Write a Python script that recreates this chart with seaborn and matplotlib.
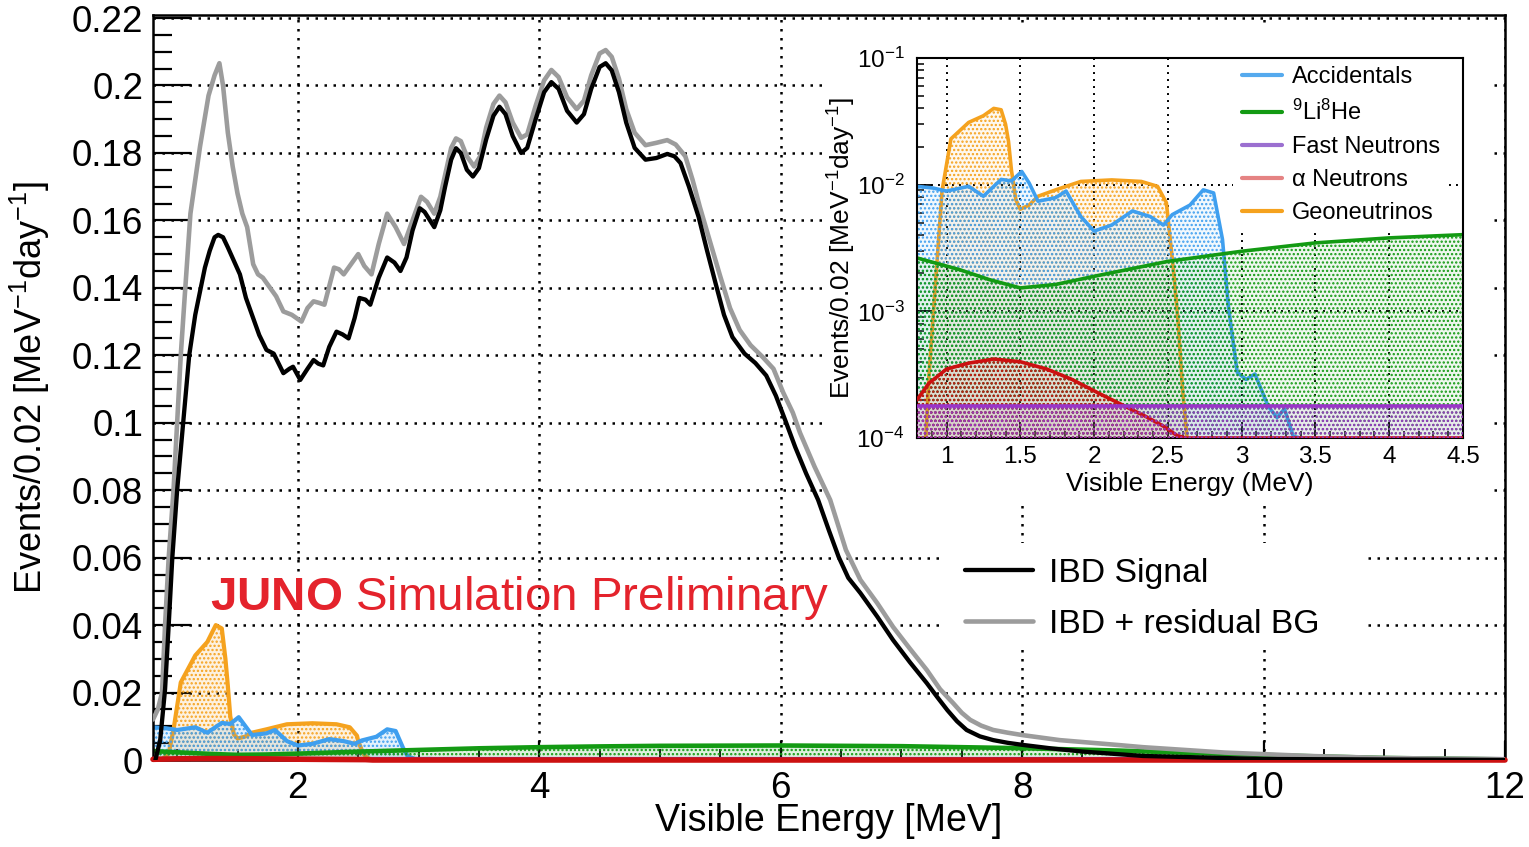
import numpy as np
import matplotlib
matplotlib.use("Agg")
import matplotlib.pyplot as plt
import seaborn as sns
from matplotlib.lines import Line2D
from matplotlib.patches import Rectangle
from matplotlib.ticker import MultipleLocator, FuncFormatter, LogLocator, NullFormatter

# ---------------- spectra (events / 0.02 MeV / day) ----------------
# IBD signal
ibd_E = [0.82, 0.86, 0.90, 0.93, 0.96, 1.00, 1.05, 1.10, 1.15, 1.19, 1.23, 1.27, 1.31, 1.34, 1.38,
         1.42, 1.47, 1.52, 1.57, 1.63, 1.68, 1.74, 1.80, 1.88, 1.93, 1.96, 2.02, 2.08, 2.13, 2.17,
         2.21, 2.26, 2.32, 2.37, 2.42, 2.47, 2.51, 2.56, 2.60, 2.67, 2.74, 2.80, 2.85, 2.90, 2.95,
         3.01, 3.05, 3.13, 3.18, 3.22, 3.27, 3.31, 3.35, 3.40, 3.45, 3.50, 3.56, 3.62, 3.67, 3.72,
         3.78, 3.85, 3.90, 3.97, 4.04, 4.10, 4.16, 4.23, 4.31, 4.37, 4.43, 4.50, 4.55, 4.60, 4.66,
         4.72, 4.79, 4.88, 4.97, 5.06, 5.12, 5.17, 5.24, 5.32, 5.39, 5.46, 5.53, 5.60, 5.70, 5.79,
         5.88, 5.96, 6.04, 6.12, 6.21, 6.31, 6.40, 6.48, 6.56, 6.66, 6.80, 6.93, 7.07, 7.21, 7.30,
         7.38, 7.46, 7.54, 7.65, 7.76, 7.88, 8.00, 8.25, 8.50, 9.00, 10.0, 12.0]
ibd_rate = [0.0, 0.006, 0.021, 0.040, 0.060, 0.080, 0.100, 0.120, 0.132, 0.139, 0.146, 0.151, 0.155,
            0.1557, 0.155, 0.152, 0.148, 0.144, 0.137, 0.131, 0.126, 0.1216, 0.1205, 0.1147, 0.1160,
            0.1166, 0.1127, 0.1160, 0.1186, 0.1175, 0.117, 0.1225, 0.127, 0.1262, 0.125, 0.131, 0.137,
            0.1365, 0.135, 0.143, 0.149, 0.1475, 0.145, 0.149, 0.157, 0.1636, 0.1625, 0.158, 0.163,
            0.170, 0.178, 0.1814, 0.180, 0.175, 0.173, 0.1755, 0.184, 0.191, 0.1937, 0.1915, 0.185,
            0.180, 0.1815, 0.190, 0.198, 0.201, 0.199, 0.1925, 0.189, 0.1915, 0.199, 0.2055, 0.2066,
            0.2045, 0.198, 0.189, 0.1815, 0.178, 0.1785, 0.1797, 0.1790, 0.177, 0.170, 0.161, 0.151,
            0.1414, 0.132, 0.1254, 0.1205, 0.1177, 0.1140, 0.1080, 0.1005, 0.0928, 0.085, 0.0771,
            0.068, 0.0602, 0.0540, 0.0495, 0.0425, 0.0356, 0.029, 0.0228, 0.0185, 0.0148, 0.0115,
            0.0089, 0.0070, 0.0059, 0.0051, 0.0045, 0.0034, 0.0025, 0.0012, 0.0003, 0.0]

# IBD signal plus residual backgrounds
tot_E = [0.80, 0.84, 0.875, 0.90, 0.93, 0.97, 1.00, 1.03, 1.06, 1.11, 1.15, 1.19, 1.26, 1.31, 1.35,
         1.38, 1.42, 1.46, 1.50, 1.54, 1.58, 1.63, 1.67, 1.71, 1.77, 1.82, 1.88, 1.95, 2.03, 2.08,
         2.13, 2.18, 2.22, 2.26, 2.30, 2.34, 2.38, 2.44, 2.50, 2.55, 2.61, 2.67, 2.74, 2.81, 2.88,
         2.95, 3.02, 3.07, 3.13, 3.18, 3.22, 3.27, 3.31, 3.35, 3.40, 3.46, 3.51, 3.56, 3.62, 3.67,
         3.72, 3.78, 3.85, 3.90, 3.97, 4.04, 4.10, 4.16, 4.23, 4.31, 4.37, 4.43, 4.50, 4.55, 4.60,
         4.66, 4.72, 4.79, 4.88, 4.97, 5.06, 5.13, 5.21, 5.27, 5.33, 5.42, 5.50, 5.58, 5.66, 5.75,
         5.85, 5.94, 6.02, 6.10, 6.16, 6.28, 6.41, 6.54, 6.66, 6.80, 6.93, 7.07, 7.21, 7.32, 7.43,
         7.50, 7.57, 7.66, 7.76, 7.88, 8.00, 8.31, 8.81, 9.00, 9.68, 10.37, 11.0, 12.0]
tot_rate = [0.012, 0.015, 0.020, 0.040, 0.060, 0.080, 0.100, 0.120, 0.136, 0.162, 0.172, 0.182, 0.197,
            0.203, 0.2066, 0.200, 0.186, 0.176, 0.168, 0.162, 0.158, 0.147, 0.144, 0.143, 0.140,
            0.1375, 0.133, 0.132, 0.130, 0.134, 0.136, 0.1355, 0.135, 0.1405, 0.146, 0.1455, 0.144,
            0.147, 0.150, 0.1465, 0.144, 0.153, 0.162, 0.158, 0.153, 0.160, 0.167, 0.1655, 0.162,
            0.167, 0.1735, 0.1815, 0.1843, 0.1835, 0.179, 0.176, 0.179, 0.1875, 0.1945, 0.197,
            0.195, 0.189, 0.1845, 0.1855, 0.194, 0.2015, 0.2046, 0.2025, 0.1965, 0.193, 0.1955,
            0.203, 0.2095, 0.2105, 0.2085, 0.202, 0.193, 0.186, 0.1823, 0.183, 0.1838, 0.1825, 0.179,
            0.172, 0.164, 0.153, 0.1433, 0.134, 0.1275, 0.123, 0.1195, 0.116, 0.109, 0.103, 0.097,
            0.087, 0.0771, 0.0623, 0.0534, 0.0465, 0.0395, 0.033, 0.0267, 0.021, 0.0168, 0.014,
            0.0119, 0.0102, 0.0089, 0.0081, 0.0074, 0.0059, 0.0044, 0.0038, 0.0022, 0.0012, 0.0006,
            0.0002]

# Accidentals
acc_E = [0.80, 0.91, 1.00, 1.15, 1.25, 1.37, 1.44, 1.51, 1.56, 1.62, 1.74, 1.81, 1.91, 2.00, 2.12,
         2.26, 2.38, 2.47, 2.53, 2.65, 2.74, 2.81, 2.87, 2.91, 2.97, 3.03, 3.09, 3.18, 3.24, 3.29,
         3.35, 3.40]
acc_rate = [0.0097, 0.0094, 0.0089, 0.0097, 0.0081, 0.0110, 0.0107, 0.0127, 0.0103, 0.0074, 0.0079,
            0.0089, 0.0056, 0.0043, 0.0048, 0.0062, 0.0056, 0.0048, 0.0058, 0.0069, 0.0091, 0.0086,
            0.0037, 0.0011, 0.00033, 0.00029, 0.00032, 0.000178, 0.000145, 0.00017, 0.000103, 0.0]

# Geoneutrinos
geo_E = [0.80, 0.86, 0.88, 0.93, 0.97, 1.03, 1.15, 1.25, 1.32, 1.37, 1.40, 1.42, 1.44, 1.47, 1.50,
         1.56, 1.62, 1.74, 1.91, 2.12, 2.32, 2.43, 2.49, 2.50, 2.54, 2.57, 2.60, 2.63]
geo_rate = [0.0, 0.0, 0.0003, 0.002, 0.009, 0.023, 0.031, 0.035, 0.040, 0.039, 0.030, 0.022, 0.013,
            0.0076, 0.0064, 0.0069, 0.0081, 0.0091, 0.0106, 0.0109, 0.0106, 0.0097, 0.0072, 0.0056,
            0.002, 0.00081, 0.00024, 0.0]

# 9Li / 8He
li_E = [0.80, 1.09, 1.29, 1.50, 1.74, 2.00, 2.50, 3.00, 3.50, 4.00, 4.50, 5.00, 6.00, 7.00, 8.00,
        8.80, 9.50, 10.30, 11.00, 12.00]
li_rate = [0.00264, 0.00213, 0.00178, 0.00153, 0.00163, 0.00189, 0.00248, 0.00298, 0.00347, 0.0038,
           0.00403, 0.0042, 0.0043, 0.0041, 0.0035, 0.0028, 0.0020, 0.0012, 0.0006, 0.0002]

# Fast neutrons
fn_E = [0.80, 12.0]
fn_rate = [0.000178, 0.000178]

# (alpha, n)
an_E = [0.80, 0.88, 1.00, 1.15, 1.32, 1.50, 1.68, 1.85, 2.03, 2.21, 2.35, 2.47, 2.56, 2.62, 12.0]
an_rate = [0.00020, 0.00027, 0.00035, 0.00039, 0.00042, 0.00040, 0.00035, 0.00029, 0.000226,
           0.000178, 0.000148, 0.000124, 0.000105, 0.0, 0.0]

main_labels = ["IBD Signal", "IBD + residual BG"]
bg_labels = ["Accidentals", r"$^{9}$Li$^{8}$He", "Fast Neutrons", "α Neutrons", "Geoneutrinos"]

C_ACC, C_LI, C_FN, C_AN, C_GEO = "#3f9fef", "#139a13", "#9a35c8", "#cc1111", "#f5a21e"
C_LEG = ["#55aaee", "#139a13", "#9b6fd0", "#e58383", "#f5a21e"]
C_IBD, C_TOT = "black", "#9c9c9c"
C_JUNO = "#e4232c"

# ---------------- style ----------------
W, H = 1529, 847
sns.set_theme(style="white")
plt.rcParams.update({
    "mathtext.fontset": "custom",
    "mathtext.rm": "Liberation Sans",
    "mathtext.it": "Liberation Sans:italic",
    "mathtext.bf": "Liberation Sans:bold",
    "hatch.linewidth": 1.1,
    "axes.edgecolor": "black",
    "axes.linewidth": 1.8,
    "xtick.color": "black",
    "ytick.color": "black",
    "text.color": "black",
    "axes.labelcolor": "black",
    "lines.solid_joinstyle": "round",
})
plt.rcParams["font.family"] = ["Liberation Sans", "DejaVu Sans"]

fig = plt.figure(figsize=(W / 100, H / 100), dpi=100)
ax = fig.add_axes([153 / W, 1 - 760 / H, (1505 - 153) / W, (760 - 15) / H])
ax.set_xlim(0.8, 12.0)
ax.set_ylim(0.0, 0.2209)
ax.set_axisbelow(True)

GRID_DOT = (0, (1, 2.6))
ax.grid(True, which="major", color="black", lw=1.8, linestyle=GRID_DOT)


def draw_component(axis, E, rate, color, zo, log=False, hatch="....", lw=3.0, tint=0.10,
                   clip=True):
    E = np.asarray(E, float)
    v = np.asarray(rate, float)
    base = 0.0
    if log:
        v = np.clip(v, 1e-4, None)
        base = 1e-4
    axis.fill_between(E, base, v, facecolor=color, alpha=tint, lw=0, zorder=zo)
    axis.fill_between(E, base, v, facecolor="none", edgecolor=color, hatch=hatch, lw=0, zorder=zo)
    sns.lineplot(x=E, y=v, ax=axis, color=color, lw=lw, estimator=None, sort=False,
                 zorder=zo + 0.1, clip_on=clip)


# backgrounds in the main panel
draw_component(ax, geo_E, geo_rate, C_GEO, 2.0, tint=0.14)
draw_component(ax, acc_E, acc_rate, C_ACC, 2.2, tint=0.14)
draw_component(ax, li_E, li_rate, C_LI, 2.4, lw=3.3, tint=0.14)
draw_component(ax, fn_E, fn_rate, C_FN, 2.6)
draw_component(ax, an_E, an_rate, C_AN, 2.8, lw=4.0, clip=False)

# spectra
sns.lineplot(x=tot_E, y=tot_rate, ax=ax, color=C_TOT, lw=3.3, estimator=None, sort=False, zorder=3.0)
sns.lineplot(x=ibd_E, y=ibd_rate, ax=ax, color=C_IBD, lw=3.1, estimator=None, sort=False, zorder=3.2)

# white pad behind the inset
ax.add_patch(Rectangle((827 / W, 1 - 505 / H), (1490 - 827) / W, (505 - 25) / H,
                       transform=fig.transFigure, facecolor="white", edgecolor="none",
                       zorder=1.0, clip_on=False))

# ticks
fmt = FuncFormatter(lambda v, p: f"{v:g}")
ax.xaxis.set_major_locator(MultipleLocator(2))
ax.xaxis.set_minor_locator(MultipleLocator(0.5))
ax.yaxis.set_major_locator(MultipleLocator(0.02))
ax.yaxis.set_minor_locator(MultipleLocator(0.005))
ax.xaxis.set_major_formatter(fmt)
ax.yaxis.set_major_formatter(fmt)
ax.tick_params(which="both", direction="in", top=False, right=False, bottom=True, left=True)
ax.tick_params(axis="y", which="major", length=27, width=1.6, labelsize=26.5, pad=7)
ax.tick_params(axis="y", which="minor", length=14, width=1.6)
ax.tick_params(axis="x", which="major", length=14, width=1.6, labelsize=26.5, pad=8)
ax.tick_params(axis="x", which="minor", length=8, width=1.3)
for s in ax.spines.values():
    s.set_visible(True)
    s.set_color("black")
    s.set_linewidth(1.8)

ax.set_xlabel("Visible Energy [MeV]", fontsize=27)
ax.xaxis.set_label_coords(0.5, -0.058)
ax.set_ylabel(r"Events/0.02 [MeV$^{-1}$day$^{-1}$]", fontsize=26)
ax.yaxis.set_label_coords(-0.075, 0.5)

# legend of the main panel
h_main = [Line2D([], [], color=C_IBD, lw=3.1), Line2D([], [], color=C_TOT, lw=3.3)]
leg = ax.legend(h_main, main_labels, loc="center left",
                bbox_to_anchor=(965 / W, 1 - 599 / H), bbox_transform=fig.transFigure,
                frameon=False, fontsize=24.3, handlelength=2.0, handletextpad=0.5,
                labelspacing=0.6, borderpad=0.0, borderaxespad=0.0)
ax.add_patch(Rectangle((945 / W, 1 - 647 / H), (1362 - 945) / W, (647 - 543) / H,
                       transform=fig.transFigure, facecolor="white", edgecolor="none",
                       zorder=1.0, clip_on=False))

fig.text(210 / W, 1 - 610 / H, r"$\mathbf{JUNO}$ Simulation Preliminary",
         color=C_JUNO, fontsize=34.2, ha="left", va="baseline")

# ---------------- inset, log scale ----------------
axi = fig.add_axes([917 / W, 1 - 438 / H, (1463 - 917) / W, (438 - 58) / H])
axi.set_facecolor("white")
axi.set_yscale("log")
axi.set_xlim(0.8, 4.5)
axi.set_ylim(1e-4, 1e-1)
axi.set_axisbelow(True)
axi.grid(True, which="major", color="black", lw=1.4, linestyle=GRID_DOT)

draw_component(axi, geo_E, geo_rate, C_GEO, 2.0, log=True, lw=2.6, tint=0.07)
draw_component(axi, acc_E, acc_rate, C_ACC, 2.2, log=True, lw=2.6, tint=0.07)
draw_component(axi, li_E, li_rate, C_LI, 2.4, log=True, lw=2.6, tint=0.07)
draw_component(axi, an_E, an_rate, C_AN, 2.6, log=True, lw=2.6, tint=0.07)
draw_component(axi, fn_E, fn_rate, C_FN, 2.8, log=True, lw=2.6, tint=0.07)

axi.xaxis.set_major_locator(MultipleLocator(0.5))
axi.xaxis.set_minor_locator(MultipleLocator(0.1))
axi.xaxis.set_major_formatter(fmt)
axi.yaxis.set_major_locator(LogLocator(base=10, numticks=10))
axi.yaxis.set_minor_locator(LogLocator(base=10, subs=np.arange(2, 10), numticks=20))
axi.yaxis.set_minor_formatter(NullFormatter())
axi.tick_params(which="both", direction="in", top=False, right=False, bottom=True, left=True)
axi.tick_params(which="major", length=10, width=1.3, labelsize=17.5)
axi.tick_params(which="minor", length=5, width=1.1)
axi.tick_params(axis="y", which="major", pad=9)
axi.tick_params(axis="x", which="major", pad=6)
for s in axi.spines.values():
    s.set_visible(True)
    s.set_color("black")
    s.set_linewidth(1.5)

axi.set_xlabel("Visible Energy (MeV)", fontsize=19)
axi.xaxis.set_label_coords(0.5, -0.09)
axi.set_ylabel(r"Events/0.02 [MeV$^{-1}$day$^{-1}$]", fontsize=19)
axi.yaxis.set_label_coords(-0.108, 0.5)

h_bg = [Line2D([], [], color=c, lw=3.0) for c in C_LEG]
lg = axi.legend(h_bg, bg_labels, loc="upper left", bbox_to_anchor=((1233 - 917) / 546, 1.0),
                frameon=True, facecolor="white", edgecolor="none", framealpha=1.0, fancybox=False,
                fontsize=17, handlelength=1.7, handletextpad=0.42, labelspacing=0.47,
                borderpad=0.36, borderaxespad=0.0)
# legend box sits above the blue/orange histograms but under the 9Li/8He curve
lg.set_zorder(2.35)

fig.savefig("out.png", dpi=100)
